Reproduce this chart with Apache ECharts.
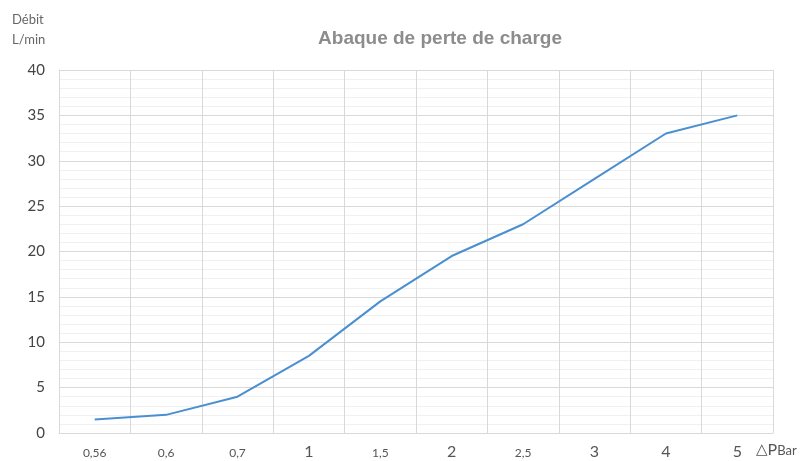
<!DOCTYPE html>
<html><head><meta charset="utf-8">
<script src="https://cdn.jsdelivr.net/npm/echarts@6/dist/echarts.min.js"></script>
<style>html,body{margin:0;padding:0;background:#fff}#c{width:808px;height:461px}</style>
</head><body><div id="c"></div>
<script>
var categories = ['0,56','0,6','0,7','1','1,5','2','2,5','3','4','5'];
var debit = [1.5, 2, 4, 8.5, 14.5, 19.5, 23, 28, 33, 35];
var yTicks = [0, 5, 10, 15, 20, 25, 30, 35, 40];

var chart = echarts.init(document.getElementById('c'));
var gridColor = '#d9d9d9';
chart.setOption({
  animation: false,
  title: {
    text: 'Abaque de perte de charge',
    left: 435, top: 24, textAlign: 'center',
    textStyle: {color: '#8c8c8c', fontSize: 19, fontWeight: 'bold', fontFamily: 'Liberation Sans, Arial, sans-serif'}
  },
  graphic: [
    {type: 'text', left: 12, top: 10, style: {text: 'Débit\nL/min', fill: '#666', font: '13px Lato, "Noto Sans", sans-serif', lineHeight: 20, align: 'center'}},
    {type: 'text', left: 756, top: 442, style: {
      text: '{a|△}{b|P}{c|Bar}',
      rich: {
        a: {fontSize: 15, fill: '#555', fontFamily: 'DejaVu Sans', verticalAlign: 'bottom'},
        b: {fontSize: 16, fill: '#555', fontFamily: 'Lato, sans-serif', verticalAlign: 'bottom'},
        c: {fontSize: 13, fill: '#555', fontFamily: 'Lato, sans-serif', verticalAlign: 'bottom', padding: [0,0,1,0]}
      }
    }}
  ],
  grid: {left: 59, right: 35, top: 70, bottom: 28},
  xAxis: {
    type: 'category',
    data: categories,
    boundaryGap: true,
    axisLine: {show: true, lineStyle: {color: gridColor}},
    axisTick: {show: false},
    splitLine: {show: true, lineStyle: {color: gridColor}},
    axisLabel: {
      margin: 11,
      interval: 0,
      formatter: function (v) { return v.indexOf(',') >= 0 ? '{s|' + v + '}' : '{l|' + v + '}'; },
      rich: {
        s: {fontSize: 12, color: '#555', fontFamily: 'Lato, sans-serif', padding: [3,0,0,0]},
        l: {fontSize: 16, color: '#555', fontFamily: 'Lato, sans-serif'}
      }
    }
  },
  yAxis: {
    type: 'value',
    min: yTicks[0], max: yTicks[yTicks.length - 1], interval: 5,
    axisLine: {show: true, lineStyle: {color: gridColor}},
    axisTick: {show: false},
    axisLabel: {color: '#444', fontSize: 15, fontFamily: 'Lato, sans-serif', margin: 14},
    splitLine: {show: true, lineStyle: {color: gridColor}},
    minorTick: {show: false, splitNumber: 5},
    minorSplitLine: {show: true, lineStyle: {color: '#f0f0f0'}}
  },
  series: [{
    type: 'line',
    data: debit,
    symbol: 'none',
    lineStyle: {color: '#4a8fd0', width: 2},
    itemStyle: {color: '#4a8fd0'}
  }]
});
</script>
</body></html>
